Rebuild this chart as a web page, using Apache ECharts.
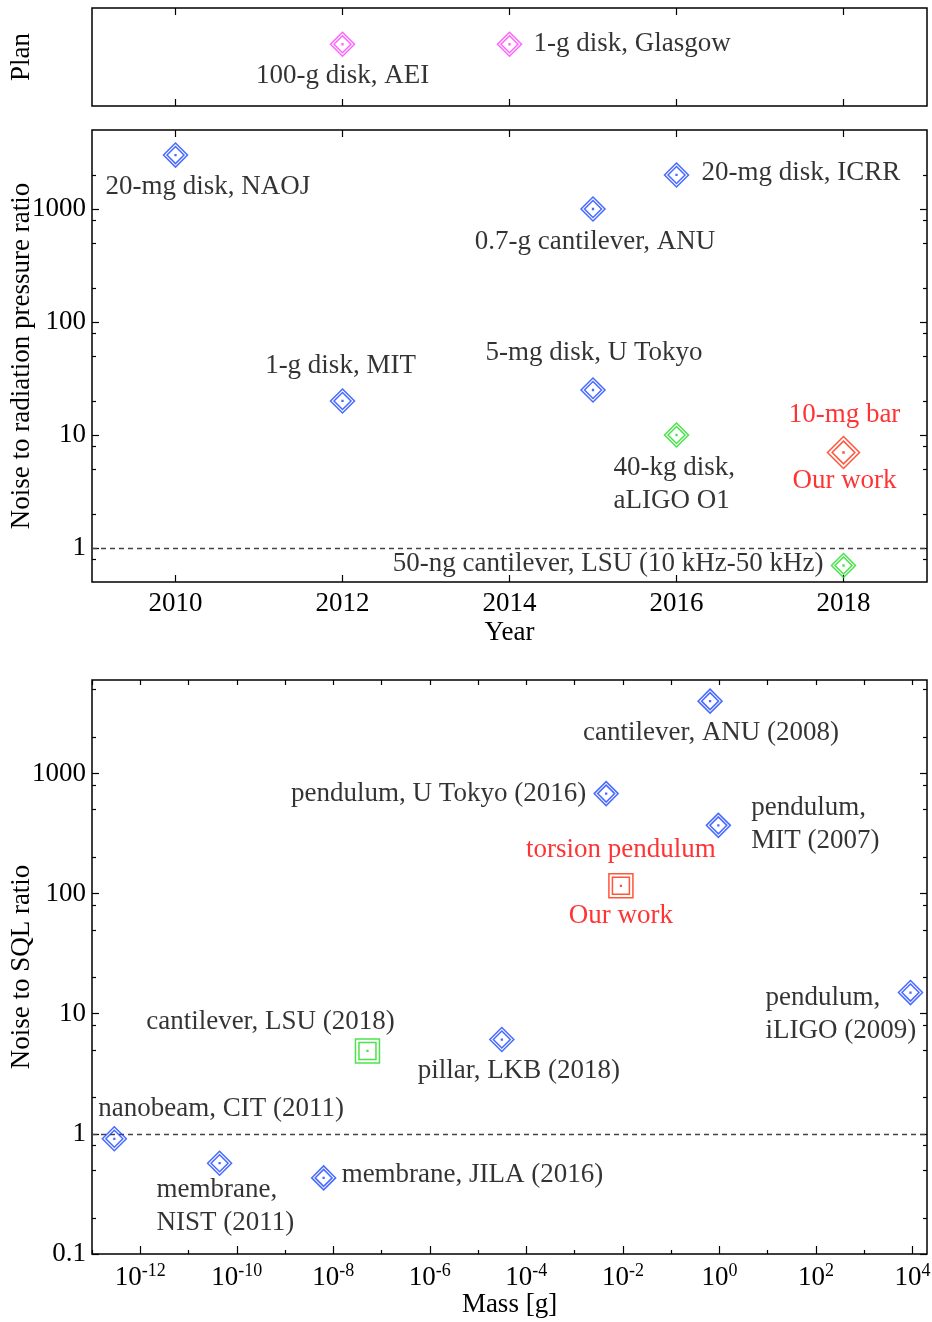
<!DOCTYPE html>
<html>
<head>
<meta charset="utf-8">
<script src="https://cdn.jsdelivr.net/npm/echarts@6/dist/echarts.min.js"></script>
<style>
  html, body { margin: 0; padding: 0; background: #fff; }
  #chart { width: 932px; height: 1322px; }
</style>
</head>
<body>
<div id="chart"></div>
<script>
// ---- data ----
var planNames = ['100-g disk, AEI', '1-g disk, Glasgow'];
var planYear = [2012, 2014];
var planY = [0.63, 0.63];

var rpNames = ['20-mg disk, NAOJ', '1-g disk, MIT', '0.7-g cantilever, ANU', '5-mg disk, U Tokyo', '20-mg disk, ICRR'];
var rpYear = [2010, 2012, 2015, 2015, 2016];
var rpRatio = [3000, 20, 1000, 25, 2000];

var rpGreenNames = ['40-kg disk,\naLIGO O1', '50-ng cantilever, LSU (10 kHz-50 kHz)'];
var rpGreenYear = [2016, 2018];
var rpGreenRatio = [10, 0.7];

var rpOursName = ['10-mg bar\n\nOur work'];
var rpOursYear = [2018];
var rpOursRatio = [7];

var sqlNames = ['nanobeam, CIT (2011)', 'membrane,\nNIST (2011)', 'membrane, JILA (2016)', 'pillar, LKB (2018)',
  'pendulum, U Tokyo (2016)', 'cantilever, ANU (2008)', 'pendulum,\nMIT (2007)', 'pendulum,\niLIGO (2009)'];
var sqlMass = [2.9e-13, 4.4e-11, 6.3e-9, 3.1e-5, 4.5e-3, 0.64, 0.95, 9.1e3];
var sqlRatio = [0.91, 0.57, 0.43, 6.1, 680, 4000, 370, 15];

var sqlGreenNames = ['cantilever, LSU (2018)'];
var sqlGreenMass = [5.1e-8];
var sqlGreenRatio = [4.9];

var sqlOursNames = ['torsion pendulum\n\nOur work'];
var sqlOursMass = [9.1e-3];
var sqlOursRatio = [116];

var yearTicks = [2010, 2012, 2014, 2016, 2018];
var rpMajor = [1, 10, 100, 1000];
var rpMinor = [0.8, 2, 5, 8, 20, 50, 80, 200, 500, 800, 2000];
var sqlMajor = [0.1, 1, 10, 100, 1000];
var sqlMinor = [0.2, 0.5, 0.8, 2, 5, 8, 20, 50, 80, 200, 500, 800, 2000, 5000];
var massMajor = [1e-12, 1e-10, 1e-8, 1e-6, 1e-4, 1e-2, 1, 1e2, 1e4];
var massMinor = [1e-13, 1e-11, 1e-9, 1e-7, 1e-5, 1e-3, 1e-1, 1e1, 1e3];

// ---- label placement (offset from marker centre, align) ----
var labelPos = {
  '100-g disk, AEI': [0, 32, 'center'],
  '1-g disk, Glasgow': [24, 0, 'left'],
  '20-mg disk, NAOJ': [-70, 32, 'left'],
  '1-g disk, MIT': [-2, -35, 'center'],
  '0.7-g cantilever, ANU': [2, 33, 'center'],
  '5-mg disk, U Tokyo': [1, -37, 'center'],
  '20-mg disk, ICRR': [25, -2, 'left'],
  '40-kg disk,\naLIGO O1': [-63, 49, 'left'],
  '50-ng cantilever, LSU (10 kHz-50 kHz)': [-20, -2, 'right'],
  '10-mg bar\n\nOur work': [1, -5, 'center'],
  'nanobeam, CIT (2011)': [-16, -30, 'left'],
  'membrane,\nNIST (2011)': [-63, 43, 'left'],
  'membrane, JILA (2016)': [18, -3, 'left'],
  'cantilever, LSU (2018)': [-97, -29, 'center'],
  'pillar, LKB (2018)': [17, 31, 'center'],
  'pendulum, U Tokyo (2016)': [-20, 0, 'right'],
  'cantilever, ANU (2008)': [1, 32, 'center'],
  'pendulum,\nMIT (2007)': [33, -1, 'left'],
  'torsion pendulum\n\nOur work': [0, -3, 'center'],
  'pendulum,\niLIGO (2009)': [-145, 22, 'left']
};

var FONT = 'Liberation Serif';
var FS = 27;
var BLUE = '#1a46ff', GREEN = '#1edc1e', RED = '#ff2a0a', MAGENTA = '#ff40ff';

var dblDiamond = 'path://M0,-12L12,0L0,12L-12,0Z M0,-8.5L8.5,0L0,8.5L-8.5,0Z M-0.4,-0.4L0.4,-0.4L0.4,0.4L-0.4,0.4Z';
var dblSquare = 'path://M-12,-12L12,-12L12,12L-12,12Z M-8.5,-8.5L8.5,-8.5L8.5,8.5L-8.5,8.5Z M-0.4,-0.4L0.4,-0.4L0.4,0.4L-0.4,0.4Z';

function pts(names, xs, ys, textColor) {
  return names.map(function (n, i) {
    var p = labelPos[n];
    return {
      name: n,
      value: [xs[i], ys[i]],
      label: {
        show: true, position: 'inside', formatter: '{b}',
        offset: [p[0], p[1]], align: p[2], verticalAlign: 'middle',
        color: textColor, fontFamily: FONT, fontSize: FS, lineHeight: 33
      }
    };
  });
}

function marks(name, xi, yi, data, color, symbol, size, extra) {
  var s = {
    name: name, type: 'scatter', xAxisIndex: xi, yAxisIndex: yi,
    symbol: symbol, symbolSize: size, symbolKeepAspect: true,
    itemStyle: { color: 'none', borderColor: color, borderWidth: 1.5 },
    emphasis: { disabled: true },
    data: data, z: 5
  };
  if (extra) s.markLine = extra;
  return s;
}

var unityLine = {
  silent: true, symbol: 'none', label: { show: false },
  lineStyle: { color: '#444', type: [5, 4], width: 1.3 },
  data: [{ yAxis: 1 }]
};

var txt = { fontFamily: FONT, fontSize: FS, color: '#000' };
var tickLine = { color: '#000', width: 1.2 };

function plain(v) { return String(v); }

function tickAxis(base) {
  var a = {
    axisLine: { show: false },
    splitLine: { show: false },
    axisLabel: { show: false },
    nameMoveOverlap: false,
    axisTick: { show: true, inside: true, length: 7, lineStyle: tickLine }
  };
  for (var k in base) a[k] = base[k];
  return a;
}

function ticks(values, len) {
  return { show: true, inside: true, length: len, customValues: values, lineStyle: tickLine };
}

function supLabel(v) {
  var e = Math.round(Math.log10(v));
  return '{b|10}{s|' + e + '}';
}

var massLabelRich = {
  b: { fontFamily: FONT, fontSize: FS, color: '#000' },
  s: { fontFamily: FONT, fontSize: 18, color: '#000', verticalAlign: 'top', padding: [0, 0, 14, 0] }
};

var gridBase = { left: 92, right: 5, show: true, borderColor: '#000', borderWidth: 1.5, containLabel: false, outerBoundsMode: 'none' };
function grid(top, height) {
  var g = { top: top, height: height };
  for (var k in gridBase) g[k] = gridBase[k];
  return g;
}

var chart = echarts.init(document.getElementById('chart'));
chart.setOption({
  backgroundColor: '#fff',
  animation: false,
  grid: [grid(8, 98), grid(130, 452), grid(680, 574)],
  xAxis: [
    tickAxis({ gridIndex: 0, type: 'value', min: 2009, max: 2019, position: 'bottom', axisTick: ticks(yearTicks, 7) }),
    tickAxis({ gridIndex: 0, type: 'value', min: 2009, max: 2019, position: 'top', axisTick: ticks(yearTicks, 7) }),
    tickAxis({ gridIndex: 1, type: 'value', min: 2009, max: 2019, position: 'bottom',
      name: 'Year', nameLocation: 'middle', nameGap: 37, nameTextStyle: txt,
      axisLabel: { show: true, customValues: yearTicks, formatter: plain, margin: 8, fontFamily: FONT, fontSize: FS, color: '#000' },
      axisTick: ticks(yearTicks, 7) }),
    tickAxis({ gridIndex: 1, type: 'value', min: 2009, max: 2019, position: 'top', axisTick: ticks(yearTicks, 7) }),
    tickAxis({ gridIndex: 2, type: 'log', min: 1e-13, max: 2e4, position: 'bottom',
      name: 'Mass [g]', nameLocation: 'middle', nameGap: 37, nameTextStyle: txt,
      axisLabel: { show: true, customValues: massMajor, margin: 8, formatter: supLabel, rich: massLabelRich },
      axisTick: ticks(massMajor, 8) }),
    tickAxis({ gridIndex: 2, type: 'log', min: 1e-13, max: 2e4, position: 'bottom', axisTick: ticks(massMinor, 4) }),
    tickAxis({ gridIndex: 2, type: 'log', min: 1e-13, max: 2e4, position: 'top', axisTick: ticks(massMajor.concat(massMinor), 5) })
  ],
  yAxis: [
    tickAxis({ gridIndex: 0, type: 'value', min: 0, max: 1, axisTick: { show: false },
      name: 'Plan', nameLocation: 'middle', nameGap: 57, nameTextStyle: txt }),
    tickAxis({ gridIndex: 1, type: 'log', min: 0.5, max: 5000, position: 'left',
      name: 'Noise to radiation pressure ratio', nameLocation: 'middle', nameGap: 57, nameTextStyle: txt,
      axisLabel: { show: true, customValues: rpMajor, formatter: plain, margin: 6, fontFamily: FONT, fontSize: FS, color: '#000' },
      axisTick: ticks(rpMajor, 7) }),
    tickAxis({ gridIndex: 1, type: 'log', min: 0.5, max: 5000, position: 'left', axisTick: ticks(rpMinor, 4) }),
    tickAxis({ gridIndex: 1, type: 'log', min: 0.5, max: 5000, position: 'right', axisTick: ticks(rpMajor, 7) }),
    tickAxis({ gridIndex: 1, type: 'log', min: 0.5, max: 5000, position: 'right', axisTick: ticks(rpMinor, 4) }),
    tickAxis({ gridIndex: 2, type: 'log', min: 0.1, max: 6000, position: 'left',
      name: 'Noise to SQL ratio', nameLocation: 'middle', nameGap: 57, nameTextStyle: txt,
      axisLabel: { show: true, customValues: sqlMajor, formatter: plain, margin: 6, fontFamily: FONT, fontSize: FS, color: '#000' },
      axisTick: ticks(sqlMajor, 7) }),
    tickAxis({ gridIndex: 2, type: 'log', min: 0.1, max: 6000, position: 'left', axisTick: ticks(sqlMinor, 4) }),
    tickAxis({ gridIndex: 2, type: 'log', min: 0.1, max: 6000, position: 'right', axisTick: ticks(sqlMajor, 7) }),
    tickAxis({ gridIndex: 2, type: 'log', min: 0.1, max: 6000, position: 'right', axisTick: ticks(sqlMinor, 4) })
  ],
  series: [
    marks('plan', 0, 0, pts(planNames, planYear, planY, '#000'), MAGENTA, dblDiamond, 24),
    marks('rp', 2, 1, pts(rpNames, rpYear, rpRatio, '#000'), BLUE, dblDiamond, 24, unityLine),
    marks('rpGreen', 2, 1, pts(rpGreenNames, rpGreenYear, rpGreenRatio, '#000'), GREEN, dblDiamond, 24),
    marks('rpOurs', 2, 1, pts(rpOursName, rpOursYear, rpOursRatio, '#ff0000'), RED, dblDiamond, 32),
    marks('sql', 4, 5, pts(sqlNames, sqlMass, sqlRatio, '#000'), BLUE, dblDiamond, 24, unityLine),
    marks('sqlGreen', 4, 5, pts(sqlGreenNames, sqlGreenMass, sqlGreenRatio, '#000'), GREEN, dblSquare, 24),
    marks('sqlOurs', 4, 5, pts(sqlOursNames, sqlOursMass, sqlOursRatio, '#ff0000'), RED, dblSquare, 24)
  ]
});
</script>
</body>
</html>
